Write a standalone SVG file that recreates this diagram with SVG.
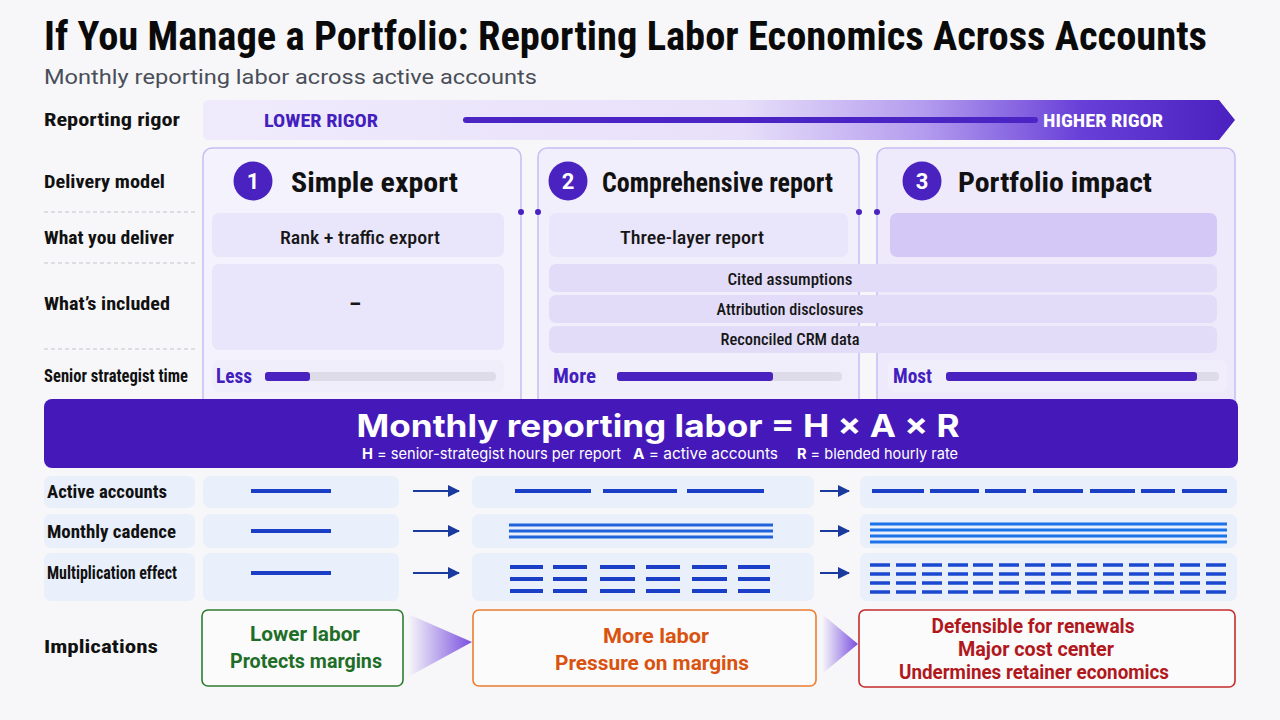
<svg xmlns="http://www.w3.org/2000/svg" width="1280" height="720" viewBox="0 0 1280 720">
<defs>
<style>
.cond{font-family:"Liberation Sans Narrow","Roboto Condensed","Roboto","Liberation Sans",sans-serif;font-weight:700;}
.lbl{font-size:19px;fill:#111;}
.hdr{font-size:28px;fill:#111;}
.cell{font-size:19px;fill:#161616;font-weight:500;}
.inc{font-size:16px;fill:#161616;font-weight:500;}
.pur{fill:#4320bd;}
.card{stroke:#c9bdf3;stroke-width:1.5;}
.cellbox{fill:#e9e5fa;}
.strip{fill:#e2dcf8;}
.timebox{fill:#f1eefc;}
.track{fill:#dedce8;}
.fill{fill:#4a22bf;}
.num{font-family:"Roboto","Liberation Sans",sans-serif;font-weight:700;font-size:22px;fill:#fff;}
.rowbox{fill:#e9f0fb;}
.bl{stroke:#1a3fc6;stroke-width:4;fill:none;}
.bl2{stroke:#1f62dc;stroke-width:3;fill:none;}
.bl3{stroke:#1c72e8;stroke-width:3;fill:none;}
.arr{stroke:#1a3a9e;stroke-width:2;fill:none;}
.imp{font-family:"Roboto","Liberation Sans",sans-serif;font-weight:700;}
.form{font-family:"Inter","Roboto","Liberation Sans",sans-serif;fill:#fff;}
.dot{fill:#4a22bf;}
</style>
<linearGradient id="rigor" gradientUnits="userSpaceOnUse" x1="203" y1="0" x2="1235" y2="0">
<stop offset="0" stop-color="#efebfc"/>
<stop offset="0.52" stop-color="#e8e0fa"/>
<stop offset="0.7" stop-color="#b39bee"/>
<stop offset="0.85" stop-color="#6840d8"/>
<stop offset="1" stop-color="#4a20bf"/>
</linearGradient>
<linearGradient id="tri" x1="0" y1="0" x2="1" y2="0">
<stop offset="0" stop-color="#7b52e0" stop-opacity="0"/>
<stop offset="1" stop-color="#7a4fe0"/>
</linearGradient>
<marker id="ah" markerUnits="userSpaceOnUse" markerWidth="12" markerHeight="12" refX="11" refY="6" orient="auto">
<path d="M0 0L12 6L0 12Z" fill="#1a3a9e"/>
</marker>
<path id="r3c3" class="bl3" style="stroke:#1a48d0;stroke-width:3.5" d="M870 565h20M896 565h20M922 565h20M948 565h20M973 565h20M999 565h20M1025 565h20M1051 565h20M1077 565h20M1103 565h20M1129 565h20M1154 565h20M1180 565h20M1206 565h20"/>
<path id="r3c2" class="bl" d="M510 567h33M553 567h34M600 567h35M646 567h34M692 567h35M738 567h32"/>
</defs>

<rect x="0" y="0" width="1280" height="720" fill="#f7f7f9"/>

<g id="title">
<text x="44" y="50" class="cond" font-size="40" font-weight="900" fill="#0a0a0a" textLength="1163" lengthAdjust="spacingAndGlyphs">If You Manage a Portfolio: Reporting Labor Economics Across Accounts</text>
<text x="44" y="84" font-family="Roboto,'Liberation Sans',sans-serif" font-size="21" fill="#4a4e58" textLength="493" lengthAdjust="spacingAndGlyphs">Monthly reporting labor across active accounts</text>
</g>

<g id="row-labels">
<text x="44" y="126" class="cond lbl" font-size="20" textLength="136" lengthAdjust="spacingAndGlyphs">Reporting rigor</text>
<text x="44" y="188" class="cond lbl" font-size="18.5" textLength="121" lengthAdjust="spacingAndGlyphs">Delivery model</text>
<text x="44" y="244" class="cond lbl" textLength="130" lengthAdjust="spacingAndGlyphs">What you deliver</text>
<text x="44" y="310" class="cond lbl" textLength="126" lengthAdjust="spacingAndGlyphs">What’s included</text>
<text x="44" y="382" class="cond lbl" font-size="17" textLength="144" lengthAdjust="spacingAndGlyphs">Senior strategist time</text>
<path d="M44 212H195M44 263H195M44 349H195" stroke="#c4c4cc" stroke-width="1.2" stroke-dasharray="4 3"/>
</g>

<g id="rigor-bar">
<path d="M209 100H1219L1235 120L1219 140H209Q203 140 203 134V106Q203 100 209 100Z" fill="url(#rigor)"/>
<line x1="466" y1="120" x2="1035" y2="120" stroke="#4b24c4" stroke-width="6" stroke-linecap="round"/>
<text x="264" y="127" class="cond pur" font-size="18" textLength="114" lengthAdjust="spacingAndGlyphs">LOWER RIGOR</text>
<text x="1043" y="127" class="cond" font-size="18" fill="#fff" textLength="120" lengthAdjust="spacingAndGlyphs">HIGHER RIGOR</text>
</g>

<g id="col1">
<rect x="203" y="148" width="318" height="262" rx="9" class="card" fill="#f4f2fc"/>
<circle cx="253" cy="181" r="19.5" fill="#4a22bf"/>
<text x="253" y="189" class="num" text-anchor="middle">1</text>
<text x="291" y="192" class="cond hdr" textLength="167" lengthAdjust="spacingAndGlyphs">Simple export</text>
<rect x="212" y="213" width="292" height="44" rx="7" class="cellbox"/>
<text x="360" y="244" class="cond cell" text-anchor="middle" textLength="160" lengthAdjust="spacingAndGlyphs">Rank + traffic export</text>
<rect x="212" y="264" width="292" height="86" rx="7" class="cellbox"/>
<text x="355" y="312" class="cond" font-size="22" fill="#161616" text-anchor="middle">–</text>
<rect x="212" y="360" width="292" height="32" rx="7" class="timebox"/>
<text x="216" y="383" class="cond pur" font-size="21" textLength="36" lengthAdjust="spacingAndGlyphs">Less</text>
<rect x="265" y="372" width="231" height="9" rx="4" class="track"/>
<rect x="265" y="372" width="45" height="9" rx="3" class="fill"/>
</g>

<g id="col2">
<rect x="538" y="148" width="321" height="262" rx="9" class="card" fill="#f2effc"/>
<circle cx="568" cy="181" r="19.5" fill="#4a22bf"/>
<text x="568" y="189" class="num" text-anchor="middle">2</text>
<text x="602" y="192" class="cond hdr" textLength="231" lengthAdjust="spacingAndGlyphs">Comprehensive report</text>
<rect x="549" y="213" width="299" height="44" rx="7" class="cellbox"/>
<text x="692" y="244" class="cond cell" text-anchor="middle" textLength="144" lengthAdjust="spacingAndGlyphs">Three-layer report</text>
<rect x="549" y="360" width="299" height="32" rx="7" class="timebox"/>
<text x="553" y="383" class="cond pur" font-size="21" textLength="43" lengthAdjust="spacingAndGlyphs">More</text>
<rect x="617" y="372" width="225" height="9" rx="4" class="track"/>
<rect x="617" y="372" width="156" height="9" rx="3" class="fill"/>
</g>

<g id="col3">
<rect x="877" y="148" width="358" height="262" rx="9" class="card" fill="#eeeafc"/>
<circle cx="922" cy="181" r="19.5" fill="#4a22bf"/>
<text x="922" y="189" class="num" text-anchor="middle">3</text>
<text x="958" y="192" class="cond hdr" textLength="194" lengthAdjust="spacingAndGlyphs">Portfolio impact</text>
<rect x="890" y="213" width="327" height="44" rx="7" fill="#d4c9f6"/>
<rect x="888" y="360" width="339" height="32" rx="7" class="timebox"/>
<text x="893" y="383" class="cond pur" font-size="21" textLength="39" lengthAdjust="spacingAndGlyphs">Most</text>
<rect x="946" y="372" width="273" height="9" rx="4" class="track"/>
<rect x="946" y="372" width="251" height="9" rx="3" class="fill"/>
</g>

<g id="included-shared">
<rect x="549" y="264" width="668" height="28" rx="7" class="strip"/>
<rect x="549" y="295" width="668" height="28" rx="7" class="strip"/>
<rect x="549" y="326" width="668" height="27" rx="7" class="strip"/>
<text x="790" y="285" class="cond inc" text-anchor="middle" textLength="125" lengthAdjust="spacingAndGlyphs">Cited assumptions</text>
<text x="790" y="315" class="cond inc" text-anchor="middle" textLength="147" lengthAdjust="spacingAndGlyphs">Attribution disclosures</text>
<text x="790" y="345" class="cond inc" text-anchor="middle" textLength="139" lengthAdjust="spacingAndGlyphs">Reconciled CRM data</text>
</g>

<g id="formula">
<rect x="44" y="399" width="1194" height="69" rx="8" fill="#4519b9"/>
<text x="658" y="437" class="form" font-size="31" font-weight="700" text-anchor="middle" textLength="603" lengthAdjust="spacingAndGlyphs">Monthly reporting labor = H × A × R</text>
<text x="362" y="459" class="form" font-size="15" textLength="259" lengthAdjust="spacingAndGlyphs"><tspan font-weight="700">H</tspan> = senior-strategist hours per report</text>
<text x="633" y="459" class="form" font-size="15" textLength="145" lengthAdjust="spacingAndGlyphs"><tspan font-weight="700">A</tspan> = active accounts</text>
<text x="797" y="459" class="form" font-size="15" textLength="161" lengthAdjust="spacingAndGlyphs"><tspan font-weight="700">R</tspan> = blended hourly rate</text>
</g>

<g id="mult-rows">
<rect x="44" y="476" width="151" height="32" rx="7" class="rowbox"/>
<rect x="44" y="514" width="151" height="34" rx="7" class="rowbox"/>
<rect x="44" y="553" width="151" height="48" rx="7" class="rowbox"/>
<text x="47" y="498" class="cond lbl" font-size="18.5" textLength="120" lengthAdjust="spacingAndGlyphs">Active accounts</text>
<text x="47" y="538" class="cond lbl" font-size="18.5" textLength="129" lengthAdjust="spacingAndGlyphs">Monthly cadence</text>
<text x="47" y="579" class="cond lbl" font-size="18.5" textLength="130" lengthAdjust="spacingAndGlyphs">Multiplication effect</text>

<rect x="203" y="476" width="196" height="32" rx="7" class="rowbox"/>
<rect x="203" y="514" width="196" height="34" rx="7" class="rowbox"/>
<rect x="203" y="553" width="196" height="48" rx="7" class="rowbox"/>
<path class="bl" d="M251 491H331M251 531H331M251 573H331"/>

<rect x="472" y="476" width="342" height="32" rx="7" class="rowbox"/>
<rect x="472" y="514" width="342" height="34" rx="7" class="rowbox"/>
<rect x="472" y="553" width="342" height="48" rx="7" class="rowbox"/>
<path class="bl" d="M515 491H591M603 491H677M687 491H764"/>
<path class="bl2" d="M509 525H773M509 531H773M509 537H773"/>
<use href="#r3c2"/>
<use href="#r3c2" transform="translate(0 12)"/>
<use href="#r3c2" transform="translate(0 24)"/>

<rect x="860" y="476" width="377" height="32" rx="7" class="rowbox"/>
<rect x="860" y="514" width="377" height="34" rx="7" class="rowbox"/>
<rect x="860" y="553" width="377" height="48" rx="7" class="rowbox"/>
<path class="bl" d="M872 491H924M930 491H979M985 491H1026M1033 491H1083M1090 491H1135M1141 491H1175M1182 491H1227"/>
<path class="bl3" d="M870 524H1227M870 530H1227M870 536H1227M870 542H1227"/>
<use href="#r3c3"/>
<use href="#r3c3" transform="translate(0 9)"/>
<use href="#r3c3" transform="translate(0 18)"/>
<use href="#r3c3" transform="translate(0 27)"/>
</g>

<g id="implications">
<text x="44" y="653" class="cond lbl" font-size="22" textLength="114" lengthAdjust="spacingAndGlyphs">Implications</text>
</g>
<g id="imp-low">
<rect x="202" y="610" width="201" height="76" rx="6" fill="#fbfbfc" stroke="#2e7d32" stroke-width="1.6"/>
<text x="305" y="641" class="imp" font-size="21" fill="#1f6e27" text-anchor="middle" textLength="110" lengthAdjust="spacingAndGlyphs">Lower labor</text>
<text x="306" y="668" class="imp" font-size="21" fill="#1f6e27" text-anchor="middle" textLength="152" lengthAdjust="spacingAndGlyphs">Protects margins</text>
</g>
<g id="imp-more">
<rect x="473" y="610" width="343" height="76" rx="6" fill="#fbfbfc" stroke="#ec7d2f" stroke-width="1.6"/>
<text x="656" y="643" class="imp" font-size="21" fill="#d9520f" text-anchor="middle" textLength="106" lengthAdjust="spacingAndGlyphs">More labor</text>
<text x="652" y="670" class="imp" font-size="21" fill="#d9520f" text-anchor="middle" textLength="194" lengthAdjust="spacingAndGlyphs">Pressure on margins</text>
</g>
<g id="imp-most">
<rect x="859" y="610" width="376" height="77" rx="6" fill="#fbfbfc" stroke="#c62b2b" stroke-width="1.6"/>
<text x="1033" y="633" class="imp" font-size="20" fill="#b0181c" text-anchor="middle" textLength="203" lengthAdjust="spacingAndGlyphs">Defensible for renewals</text>
<text x="1036" y="656" class="imp" font-size="20" fill="#b0181c" text-anchor="middle" textLength="156" lengthAdjust="spacingAndGlyphs">Major cost center</text>
<text x="1034" y="679" class="imp" font-size="20" fill="#b0181c" text-anchor="middle" textLength="270" lengthAdjust="spacingAndGlyphs">Undermines retainer economics</text>
</g>

<g id="connectors">
<circle cx="521" cy="212" r="3" class="dot"/>
<circle cx="538" cy="212" r="3" class="dot"/>
<circle cx="859" cy="212" r="3" class="dot"/>
<circle cx="877" cy="212" r="3" class="dot"/>
<path class="arr" marker-end="url(#ah)" d="M413 491H459"/>
<path class="arr" marker-end="url(#ah)" d="M413 531H459"/>
<path class="arr" marker-end="url(#ah)" d="M413 573H459"/>
<path class="arr" marker-end="url(#ah)" d="M820 491H849"/>
<path class="arr" marker-end="url(#ah)" d="M820 531H849"/>
<path class="arr" marker-end="url(#ah)" d="M820 573H849"/>
<path d="M408 614L472 642L408 677Z" fill="url(#tri)"/>
<path d="M822 614L858 644L822 674Z" fill="url(#tri)"/>
</g>
</svg>
